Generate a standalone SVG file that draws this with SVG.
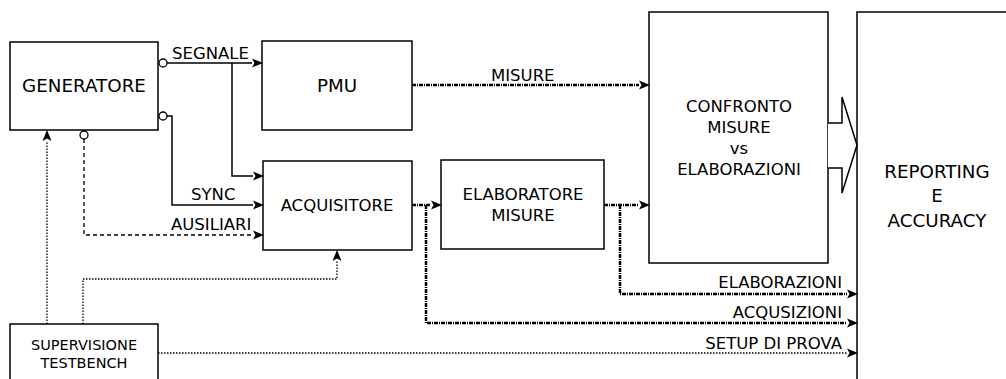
<svg xmlns="http://www.w3.org/2000/svg" width="1006" height="379" viewBox="0 0 1006 379">
<style>
.box{fill:#fff;stroke:#000;stroke-width:1.5}
text{font-family:"DejaVu Sans",Verdana,sans-serif;font-size:16.5px;fill:#000}
.c{text-anchor:middle}
.r{text-anchor:end}
.sm{font-size:14.5px}
.lg{font-size:18.3px}
.solid{fill:none;stroke:#000;stroke-width:1.5}
.dash{fill:none;stroke:#000;stroke-width:1.3;stroke-dasharray:4 3}
.dot{fill:none;stroke:#000;stroke-width:1.3;stroke-dasharray:1.5 1.5}
.data{fill:none;stroke:#000;stroke-width:2.5;stroke-dasharray:4 1 1 1}
.port{fill:#fff;stroke:#000;stroke-width:1.3}
</style>
<defs>
<marker id="ah" markerUnits="userSpaceOnUse" markerWidth="12" markerHeight="12" viewBox="0 0 12 12" refX="0" refY="6" orient="auto">
<path d="M0,1.5 L11,6 L0,10.5 L2.5,6 Z" fill="#000"/>
</marker>
</defs>
<rect width="1006" height="379" fill="#fff"/>

<g id="generatore"><rect class="box" x="10" y="42" width="148" height="88"/><text class="c lg" x="84" y="92">GENERATORE</text></g>
<g id="pmu"><rect class="box" x="262" y="41" width="150" height="89"/><text class="c lg" x="337" y="92">PMU</text></g>
<g id="acquisitore"><rect class="box" x="263" y="161" width="149" height="89"/><text class="c" x="337" y="211">ACQUISITORE</text></g>
<g id="elaboratore"><rect class="box" x="441" y="160" width="163" height="89"/><text class="c" x="523" y="200">ELABORATORE</text><text class="c" x="523" y="221">MISURE</text></g>
<g id="confronto"><rect class="box" x="649" y="12" width="179" height="251"/><text class="c" x="739" y="112">CONFRONTO</text><text class="c" x="739" y="133">MISURE</text><text class="c" x="739" y="154">vs</text><text class="c" x="739" y="175">ELABORAZIONI</text></g>
<g id="reporting"><rect class="box" x="857" y="12" width="160" height="380"/><text class="c lg" x="937" y="178">REPORTING</text><text class="c lg" x="937" y="202">E</text><text class="c lg" x="937" y="227">ACCURACY</text></g>
<g id="supervisione"><rect class="box" x="10" y="324" width="148" height="70"/><text class="c sm" x="84" y="350">SUPERVISIONE</text><text class="c sm" x="84" y="368">TESTBENCH</text></g>

<g id="connectors">
<path class="solid" d="M167,63 H252" marker-end="url(#ah)"/>
<path class="solid" d="M232,63 V176 H253" marker-end="url(#ah)"/>
<path class="solid" d="M167,116 H172 V205 H253" marker-end="url(#ah)"/>
<path class="dash" d="M84,139 V235 H253" marker-end="url(#ah)"/>
<path class="dot" d="M47,324 V141" marker-end="url(#ah)"/>
<path class="dot" d="M83,324 V279 H337 V261" marker-end="url(#ah)"/>
<path class="dot" d="M158,353 H847" marker-end="url(#ah)"/>
<path class="data" d="M412,85 H639" marker-end="url(#ah)"/>
<path class="data" d="M412,205 H431" marker-end="url(#ah)"/>
<path class="data" d="M426,205 V323 H847" marker-end="url(#ah)"/>
<path class="data" d="M604,205 H639" marker-end="url(#ah)"/>
<path class="data" d="M620,205 V294 H847" marker-end="url(#ah)"/>
<path fill="#fff" stroke="#000" stroke-width="1.5" d="M828,123 H842 V97 L857,145 L842,193 V168 H828"/>
<circle class="port" cx="163" cy="63" r="4"/>
<circle class="port" cx="163" cy="116" r="4"/>
<circle class="port" cx="84" cy="135" r="4"/>
<text x="172" y="59">SEGNALE</text>
<text x="191" y="200">SYNC</text>
<text x="171" y="230">AUSILIARI</text>
<text x="491" y="81">MISURE</text>
<text class="r" x="842" y="288">ELABORAZIONI</text>
<text class="r" x="842" y="318">ACQUSIZIONI</text>
<text class="r" x="842" y="349">SETUP DI PROVA</text>
</g>
</svg>
